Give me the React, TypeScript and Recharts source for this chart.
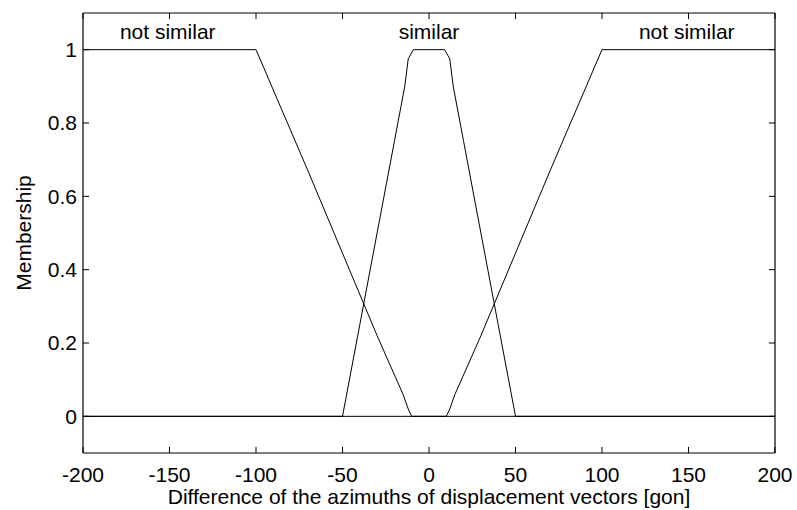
import React from 'react';
import { LineChart, Line, XAxis, YAxis, ReferenceDot, ReferenceLine } from 'recharts';

// difference of azimuths [gon] and membership for each fuzzy set
const leftNotSimilarX = [-200, -100, -90, -70, -50, -30, -15, -12, -10, 200];
const leftNotSimilarM = [1, 1, 0.89, 0.67, 0.445, 0.22, 0.06, 0.02, 0, 0];

const similarX = [-200, -50, -40, -30, -20, -14, -12, -9, 9, 12, 14, 20, 30, 40, 50, 200];
const similarM = [0, 0, 0.25, 0.5, 0.75, 0.9, 0.975, 1, 1, 0.975, 0.9, 0.75, 0.5, 0.25, 0, 0];

const rightNotSimilarX = [-200, 10, 12, 15, 30, 50, 70, 90, 100, 200];
const rightNotSimilarM = [0, 0, 0.02, 0.06, 0.22, 0.445, 0.67, 0.89, 1, 1];

const xTicks = [-200, -150, -100, -50, 0, 50, 100, 150, 200];
const yTicks = [0, 0.2, 0.4, 0.6, 0.8, 1];

const labels = [
  { text: 'not similar', x: -151, m: 1.05 },
  { text: 'similar', x: 0, m: 1.05 },
  { text: 'not similar', x: 149, m: 1.05 },
];

const X_MIN = -200;
const X_MAX = 200;
const Y_MIN = -0.1;
const Y_MAX = 1.1;
// inward tick length, ~6px expressed in axis units
const TICK_X = 3.5;
const TICK_Y = 0.0165;

const toPoints = (xs: number[], ms: number[]) => xs.map((x, i) => ({ x, m: ms[i] }));

const FONT = 'Liberation Sans, Arial, sans-serif';
const tickStyle = { fontSize: 21, fill: '#000', fontFamily: FONT };

const YLabel = ({ viewBox }: any) => {
  const cy = viewBox.y + viewBox.height / 2;
  return (
    <text
      x={23}
      y={cy}
      transform={`rotate(-90 23 ${cy})`}
      textAnchor="middle"
      dominantBaseline="central"
      fontSize={21}
      fontFamily={FONT}
      fill="#000"
    >
      Membership
    </text>
  );
};

export default function App() {
  const series = [
    toPoints(leftNotSimilarX, leftNotSimilarM),
    toPoints(similarX, similarM),
    toPoints(rightNotSimilarX, rightNotSimilarM),
  ];

  return (
    <div style={{ position: 'absolute', left: 0, top: 0, width: 797, height: 510, background: '#fff' }}>
      <LineChart width={797} height={510} margin={{ top: 13, right: 22, left: 0, bottom: 0 }}>
        <XAxis
          xAxisId="b"
          type="number"
          dataKey="x"
          domain={[X_MIN, X_MAX]}
          ticks={xTicks}
          allowDataOverflow
          height={57}
          tickSize={0}
          tickMargin={14}
          tick={tickStyle}
          axisLine={{ stroke: '#000', strokeWidth: 1.2 }}
          tickLine={false}
          label={{
            value: 'Difference of the azimuths of displacement vectors [gon]',
            position: 'insideBottom',
            offset: 6,
            fontSize: 21,
            fill: '#000',
            fontFamily: FONT,
          }}
        />
        <YAxis
          yAxisId="l"
          type="number"
          domain={[Y_MIN, Y_MAX]}
          ticks={yTicks}
          allowDataOverflow
          width={83}
          tickSize={0}
          tickMargin={6}
          tick={tickStyle}
          axisLine={{ stroke: '#000', strokeWidth: 1.2 }}
          tickLine={false}
          label={{ content: YLabel }}
        />

        {/* top and right edges of the box */}
        <ReferenceLine xAxisId="b" yAxisId="l" y={Y_MAX} stroke="#000" strokeWidth={1.2} />
        <ReferenceLine xAxisId="b" yAxisId="l" x={X_MAX} stroke="#000" strokeWidth={1.2} />

        {/* inward ticks on all four sides */}
        {xTicks.map((t) => (
          <ReferenceLine
            key={`xb${t}`}
            xAxisId="b"
            yAxisId="l"
            segment={[{ x: t, y: Y_MIN }, { x: t, y: Y_MIN + TICK_Y }]}
            stroke="#000"
          />
        ))}
        {xTicks.map((t) => (
          <ReferenceLine
            key={`xt${t}`}
            xAxisId="b"
            yAxisId="l"
            segment={[{ x: t, y: Y_MAX }, { x: t, y: Y_MAX - TICK_Y }]}
            stroke="#000"
          />
        ))}
        {yTicks.map((t) => (
          <ReferenceLine
            key={`yl${t}`}
            xAxisId="b"
            yAxisId="l"
            segment={[{ x: X_MIN, y: t }, { x: X_MIN + TICK_X, y: t }]}
            stroke="#000"
          />
        ))}
        {yTicks.map((t) => (
          <ReferenceLine
            key={`yr${t}`}
            xAxisId="b"
            yAxisId="l"
            segment={[{ x: X_MAX, y: t }, { x: X_MAX - TICK_X, y: t }]}
            stroke="#000"
          />
        ))}

        {series.map((data, i) => (
          <Line
            key={i}
            xAxisId="b"
            yAxisId="l"
            data={data}
            dataKey="m"
            type="linear"
            stroke="#000"
            strokeWidth={1}
            dot={false}
            isAnimationActive={false}
          />
        ))}
        {labels.map((l, i) => (
          <ReferenceDot
            key={i}
            xAxisId="b"
            yAxisId="l"
            x={l.x}
            y={l.m}
            r={0}
            fill="none"
            stroke="none"
            label={{ value: l.text, position: 'center', fontSize: 21, fill: '#000', fontFamily: FONT }}
          />
        ))}
      </LineChart>
    </div>
  );
}
